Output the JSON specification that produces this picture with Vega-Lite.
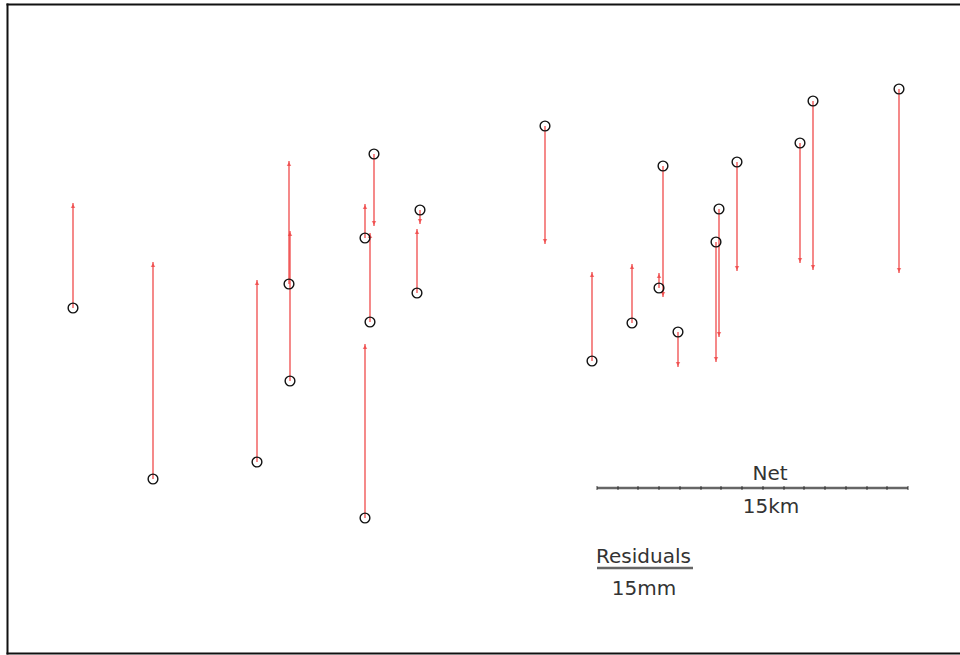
{
  "$schema": "https://vega.github.io/schema/vega-lite/v6.json",
  "width": 953,
  "height": 649,
  "autosize": {"type": "none"},
  "padding": {"left": 7, "top": 4, "right": 0, "bottom": 2},
  "background": "white",
  "config": {
    "view": {"stroke": null},
    "axis": {"domainColor": "#111111", "domainWidth": 2, "domainCap": "square", "ticks": false, "labels": false, "grid": false, "title": null}
  },
  "datasets": {
    "stations": [
      {"id": 1, "x": 73, "y": 347, "y2": 452},
      {"id": 2, "x": 153, "y": 176, "y2": 393},
      {"id": 3, "x": 257, "y": 193, "y2": 375},
      {"id": 4, "x": 290, "y": 274, "y2": 424},
      {"id": 5, "x": 289, "y": 371, "y2": 494},
      {"id": 6, "x": 374, "y": 501, "y2": 429},
      {"id": 7, "x": 365, "y": 417, "y2": 451},
      {"id": 8, "x": 370, "y": 333, "y2": 422},
      {"id": 9, "x": 365, "y": 137, "y2": 311},
      {"id": 10, "x": 420, "y": 445, "y2": 431},
      {"id": 11, "x": 417, "y": 362, "y2": 426},
      {"id": 12, "x": 545, "y": 529, "y2": 411},
      {"id": 13, "x": 592, "y": 294, "y2": 383},
      {"id": 14, "x": 632, "y": 332, "y2": 391},
      {"id": 15, "x": 663, "y": 489, "y2": 358},
      {"id": 16, "x": 659, "y": 367, "y2": 382},
      {"id": 17, "x": 678, "y": 323, "y2": 288},
      {"id": 18, "x": 719, "y": 446, "y2": 318},
      {"id": 19, "x": 716, "y": 413, "y2": 293},
      {"id": 20, "x": 737, "y": 493, "y2": 384},
      {"id": 21, "x": 800, "y": 512, "y2": 392},
      {"id": 22, "x": 813, "y": 554, "y2": 385},
      {"id": 23, "x": 899, "y": 566, "y2": 382}
    ],
    "bars": [
      {"bar": "Net 15km", "x": 597, "x2": 908, "y": 167},
      {"bar": "Residuals 15mm", "x": 597, "x2": 693, "y": 87}
    ],
    "barticks": [
      {"km": 0, "x": 597, "y": 167}, {"km": 1, "x": 618, "y": 167}, {"km": 2, "x": 638, "y": 167},
      {"km": 3, "x": 659, "y": 167}, {"km": 4, "x": 680, "y": 167}, {"km": 5, "x": 701, "y": 167},
      {"km": 6, "x": 721, "y": 167}, {"km": 7, "x": 742, "y": 167}, {"km": 8, "x": 763, "y": 167},
      {"km": 9, "x": 784, "y": 167}, {"km": 10, "x": 804, "y": 167}, {"km": 11, "x": 825, "y": 167},
      {"km": 12, "x": 846, "y": 167}, {"km": 13, "x": 867, "y": 167}, {"km": 14, "x": 887, "y": 167},
      {"km": 15, "x": 908, "y": 167}
    ],
    "labels": [
      {"text": "Net", "x": 770, "y": 175, "align": "center"},
      {"text": "15km", "x": 771, "y": 142, "align": "center"},
      {"text": "Residuals", "x": 596, "y": 92, "align": "left"},
      {"text": "15mm", "x": 644, "y": 60, "align": "center"}
    ]
  },
  "layer": [
    {
      "data": {"name": "stations"},
      "mark": {"type": "rule", "color": "#ee3b3b", "strokeWidth": 1.2},
      "encoding": {
        "x": {"field": "x", "type": "quantitative", "scale": {"domain": [7, 960]}, "axis": {"orient": "bottom"}, "title": null},
        "y": {"field": "y", "type": "quantitative", "scale": {"domain": [2, 651]}, "axis": {"orient": "left", "values": [651], "grid": true, "gridColor": "#111111", "gridWidth": 2, "gridCap": "square", "gridOpacity": 1}, "title": null},
        "y2": {"field": "y2"}
      }
    },
    {
      "data": {"name": "stations"},
      "transform": [{"filter": "datum.y2 > datum.y"}],
      "mark": {"type": "point", "shape": "triangle-up", "filled": true, "color": "#ee3b3b", "size": 20, "yOffset": 3},
      "encoding": {
        "x": {"field": "x", "type": "quantitative", "scale": {"domain": [7, 960]}, "title": null},
        "y": {"field": "y2", "type": "quantitative", "scale": {"domain": [2, 651]}, "title": null}
      }
    },
    {
      "data": {"name": "stations"},
      "transform": [{"filter": "datum.y2 < datum.y"}],
      "mark": {"type": "point", "shape": "triangle-down", "filled": true, "color": "#ee3b3b", "size": 20, "yOffset": -3},
      "encoding": {
        "x": {"field": "x", "type": "quantitative", "scale": {"domain": [7, 960]}, "title": null},
        "y": {"field": "y2", "type": "quantitative", "scale": {"domain": [2, 651]}, "title": null}
      }
    },
    {
      "data": {"name": "stations"},
      "mark": {"type": "point", "shape": "circle", "filled": false, "stroke": "#111111", "strokeWidth": 1.4, "size": 95, "opacity": 1},
      "encoding": {
        "x": {"field": "x", "type": "quantitative", "scale": {"domain": [7, 960]}, "title": null},
        "y": {"field": "y", "type": "quantitative", "scale": {"domain": [2, 651]}, "title": null}
      }
    },
    {
      "data": {"name": "bars"},
      "mark": {"type": "rule", "color": "#666666", "strokeWidth": 2.5},
      "encoding": {
        "x": {"field": "x", "type": "quantitative", "scale": {"domain": [7, 960]}, "title": null},
        "x2": {"field": "x2"},
        "y": {"field": "y", "type": "quantitative", "scale": {"domain": [2, 651]}, "title": null}
      }
    },
    {
      "data": {"name": "barticks"},
      "mark": {"type": "tick", "orient": "vertical", "color": "#222222", "size": 4, "thickness": 1.2},
      "encoding": {
        "x": {"field": "x", "type": "quantitative", "scale": {"domain": [7, 960]}, "title": null},
        "y": {"field": "y", "type": "quantitative", "scale": {"domain": [2, 651]}, "title": null}
      }
    },
    {
      "data": {"name": "labels"},
      "transform": [{"filter": "datum.align == 'center'"}],
      "mark": {"type": "text", "font": "DejaVu Sans", "fontSize": 20, "color": "#333333", "baseline": "alphabetic", "align": "center"},
      "encoding": {
        "x": {"field": "x", "type": "quantitative", "scale": {"domain": [7, 960]}, "title": null},
        "y": {"field": "y", "type": "quantitative", "scale": {"domain": [2, 651]}, "title": null},
        "text": {"field": "text"}
      }
    },
    {
      "data": {"name": "labels"},
      "transform": [{"filter": "datum.align == 'left'"}],
      "mark": {"type": "text", "font": "DejaVu Sans", "fontSize": 20, "color": "#333333", "baseline": "alphabetic", "align": "left"},
      "encoding": {
        "x": {"field": "x", "type": "quantitative", "scale": {"domain": [7, 960]}, "title": null},
        "y": {"field": "y", "type": "quantitative", "scale": {"domain": [2, 651]}, "title": null},
        "text": {"field": "text"}
      }
    }
  ]
}
